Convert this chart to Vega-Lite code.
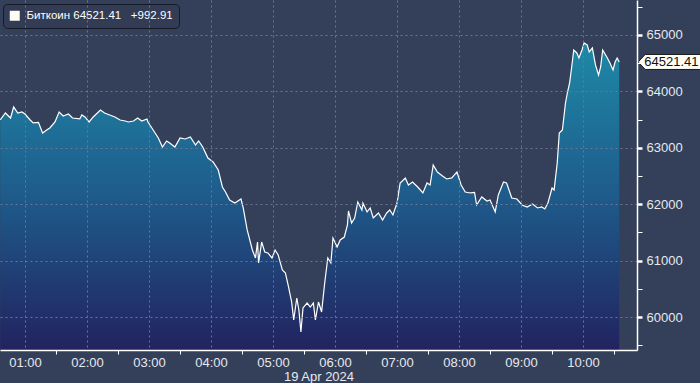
{
  "$schema": "https://vega.github.io/schema/vega-lite/v6.json",
  "width": 637,
  "height": 350,
  "autosize": {"type": "none"},
  "padding": {"left": 0, "top": 0, "right": 63, "bottom": 33},
  "background": "#344059",
  "config": {"view": {"stroke": null}, "font": "Liberation Sans"},
  "data": {"values": [
    {"t": "2024-04-19T00:36", "v": 63493},
    {"t": "2024-04-19T00:41", "v": 63617},
    {"t": "2024-04-19T00:46", "v": 63528},
    {"t": "2024-04-19T00:49", "v": 63723},
    {"t": "2024-04-19T00:53", "v": 63617},
    {"t": "2024-04-19T00:57", "v": 63635},
    {"t": "2024-04-19T01:00", "v": 63599},
    {"t": "2024-04-19T01:05", "v": 63493},
    {"t": "2024-04-19T01:08", "v": 63440},
    {"t": "2024-04-19T01:13", "v": 63450},
    {"t": "2024-04-19T01:17", "v": 63262},
    {"t": "2024-04-19T01:21", "v": 63316},
    {"t": "2024-04-19T01:24", "v": 63351},
    {"t": "2024-04-19T01:29", "v": 63457},
    {"t": "2024-04-19T01:33", "v": 63635},
    {"t": "2024-04-19T01:37", "v": 63564},
    {"t": "2024-04-19T01:42", "v": 63599},
    {"t": "2024-04-19T01:46", "v": 63528},
    {"t": "2024-04-19T01:53", "v": 63511},
    {"t": "2024-04-19T01:55", "v": 63582},
    {"t": "2024-04-19T01:58", "v": 63546},
    {"t": "2024-04-19T02:02", "v": 63457},
    {"t": "2024-04-19T02:06", "v": 63546},
    {"t": "2024-04-19T02:13", "v": 63670},
    {"t": "2024-04-19T02:17", "v": 63617},
    {"t": "2024-04-19T02:22", "v": 63582},
    {"t": "2024-04-19T02:27", "v": 63546},
    {"t": "2024-04-19T02:32", "v": 63493},
    {"t": "2024-04-19T02:37", "v": 63475},
    {"t": "2024-04-19T02:40", "v": 63457},
    {"t": "2024-04-19T02:45", "v": 63475},
    {"t": "2024-04-19T02:49", "v": 63528},
    {"t": "2024-04-19T02:53", "v": 63475},
    {"t": "2024-04-19T02:58", "v": 63511},
    {"t": "2024-04-19T02:59", "v": 63457},
    {"t": "2024-04-19T03:04", "v": 63316},
    {"t": "2024-04-19T03:09", "v": 63174},
    {"t": "2024-04-19T03:13", "v": 63014},
    {"t": "2024-04-19T03:17", "v": 63121},
    {"t": "2024-04-19T03:20", "v": 63085},
    {"t": "2024-04-19T03:25", "v": 63014},
    {"t": "2024-04-19T03:30", "v": 63174},
    {"t": "2024-04-19T03:35", "v": 63156},
    {"t": "2024-04-19T03:40", "v": 63191},
    {"t": "2024-04-19T03:45", "v": 63050},
    {"t": "2024-04-19T03:48", "v": 63121},
    {"t": "2024-04-19T03:52", "v": 63014},
    {"t": "2024-04-19T03:57", "v": 62819},
    {"t": "2024-04-19T04:02", "v": 62748},
    {"t": "2024-04-19T04:07", "v": 62606},
    {"t": "2024-04-19T04:11", "v": 62305},
    {"t": "2024-04-19T04:14", "v": 62216},
    {"t": "2024-04-19T04:18", "v": 62075},
    {"t": "2024-04-19T04:23", "v": 62021},
    {"t": "2024-04-19T04:29", "v": 62092},
    {"t": "2024-04-19T04:31", "v": 61950},
    {"t": "2024-04-19T04:35", "v": 61543},
    {"t": "2024-04-19T04:40", "v": 61188},
    {"t": "2024-04-19T04:43", "v": 61046},
    {"t": "2024-04-19T04:45", "v": 61330},
    {"t": "2024-04-19T04:46", "v": 60958},
    {"t": "2024-04-19T04:49", "v": 61330},
    {"t": "2024-04-19T04:52", "v": 61153},
    {"t": "2024-04-19T04:55", "v": 61135},
    {"t": "2024-04-19T04:59", "v": 61046},
    {"t": "2024-04-19T05:02", "v": 61188},
    {"t": "2024-04-19T05:05", "v": 61099},
    {"t": "2024-04-19T05:09", "v": 60833},
    {"t": "2024-04-19T05:12", "v": 60780},
    {"t": "2024-04-19T05:15", "v": 60532},
    {"t": "2024-04-19T05:18", "v": 60266},
    {"t": "2024-04-19T05:20", "v": 59947},
    {"t": "2024-04-19T05:23", "v": 60337},
    {"t": "2024-04-19T05:25", "v": 60124},
    {"t": "2024-04-19T05:27", "v": 59734},
    {"t": "2024-04-19T05:29", "v": 60160},
    {"t": "2024-04-19T05:33", "v": 60248},
    {"t": "2024-04-19T05:36", "v": 60177},
    {"t": "2024-04-19T05:39", "v": 60248},
    {"t": "2024-04-19T05:41", "v": 59947},
    {"t": "2024-04-19T05:44", "v": 60266},
    {"t": "2024-04-19T05:47", "v": 60089},
    {"t": "2024-04-19T05:50", "v": 60603},
    {"t": "2024-04-19T05:53", "v": 61046},
    {"t": "2024-04-19T05:56", "v": 60958},
    {"t": "2024-04-19T05:58", "v": 61401},
    {"t": "2024-04-19T06:02", "v": 61241},
    {"t": "2024-04-19T06:05", "v": 61365},
    {"t": "2024-04-19T06:09", "v": 61418},
    {"t": "2024-04-19T06:12", "v": 61631},
    {"t": "2024-04-19T06:13", "v": 61880},
    {"t": "2024-04-19T06:16", "v": 61667},
    {"t": "2024-04-19T06:19", "v": 61755},
    {"t": "2024-04-19T06:22", "v": 62039},
    {"t": "2024-04-19T06:26", "v": 61897},
    {"t": "2024-04-19T06:27", "v": 62021},
    {"t": "2024-04-19T06:31", "v": 61862},
    {"t": "2024-04-19T06:34", "v": 61933},
    {"t": "2024-04-19T06:37", "v": 61755},
    {"t": "2024-04-19T06:42", "v": 61844},
    {"t": "2024-04-19T06:46", "v": 61720},
    {"t": "2024-04-19T06:50", "v": 61844},
    {"t": "2024-04-19T06:53", "v": 61897},
    {"t": "2024-04-19T06:56", "v": 61809},
    {"t": "2024-04-19T07:00", "v": 62021},
    {"t": "2024-04-19T07:03", "v": 62376},
    {"t": "2024-04-19T07:08", "v": 62465},
    {"t": "2024-04-19T07:11", "v": 62340},
    {"t": "2024-04-19T07:15", "v": 62394},
    {"t": "2024-04-19T07:20", "v": 62305},
    {"t": "2024-04-19T07:25", "v": 62199},
    {"t": "2024-04-19T07:29", "v": 62376},
    {"t": "2024-04-19T07:32", "v": 62340},
    {"t": "2024-04-19T07:35", "v": 62695},
    {"t": "2024-04-19T07:39", "v": 62571},
    {"t": "2024-04-19T07:44", "v": 62500},
    {"t": "2024-04-19T07:48", "v": 62447},
    {"t": "2024-04-19T07:53", "v": 62465},
    {"t": "2024-04-19T07:58", "v": 62571},
    {"t": "2024-04-19T08:02", "v": 62340},
    {"t": "2024-04-19T08:06", "v": 62216},
    {"t": "2024-04-19T08:11", "v": 62199},
    {"t": "2024-04-19T08:15", "v": 62210},
    {"t": "2024-04-19T08:17", "v": 61986},
    {"t": "2024-04-19T08:22", "v": 62128},
    {"t": "2024-04-19T08:27", "v": 62057},
    {"t": "2024-04-19T08:30", "v": 62075},
    {"t": "2024-04-19T08:35", "v": 61862},
    {"t": "2024-04-19T08:38", "v": 62163},
    {"t": "2024-04-19T08:43", "v": 62394},
    {"t": "2024-04-19T08:46", "v": 62376},
    {"t": "2024-04-19T08:51", "v": 62110},
    {"t": "2024-04-19T08:56", "v": 62092},
    {"t": "2024-04-19T09:01", "v": 61986},
    {"t": "2024-04-19T09:06", "v": 61950},
    {"t": "2024-04-19T09:11", "v": 62004},
    {"t": "2024-04-19T09:16", "v": 61933},
    {"t": "2024-04-19T09:20", "v": 61950},
    {"t": "2024-04-19T09:23", "v": 61915},
    {"t": "2024-04-19T09:26", "v": 62021},
    {"t": "2024-04-19T09:30", "v": 62287},
    {"t": "2024-04-19T09:32", "v": 62252},
    {"t": "2024-04-19T09:35", "v": 62731},
    {"t": "2024-04-19T09:37", "v": 63262},
    {"t": "2024-04-19T09:40", "v": 63316},
    {"t": "2024-04-19T09:43", "v": 63794},
    {"t": "2024-04-19T09:45", "v": 63989},
    {"t": "2024-04-19T09:47", "v": 64149},
    {"t": "2024-04-19T09:49", "v": 64433},
    {"t": "2024-04-19T09:51", "v": 64734},
    {"t": "2024-04-19T09:54", "v": 64681},
    {"t": "2024-04-19T09:56", "v": 64592},
    {"t": "2024-04-19T09:59", "v": 64734},
    {"t": "2024-04-19T10:01", "v": 64858},
    {"t": "2024-04-19T10:04", "v": 64823},
    {"t": "2024-04-19T10:06", "v": 64699},
    {"t": "2024-04-19T10:09", "v": 64770},
    {"t": "2024-04-19T10:12", "v": 64468},
    {"t": "2024-04-19T10:15", "v": 64291},
    {"t": "2024-04-19T10:17", "v": 64433},
    {"t": "2024-04-19T10:19", "v": 64734},
    {"t": "2024-04-19T10:23", "v": 64610},
    {"t": "2024-04-19T10:26", "v": 64504},
    {"t": "2024-04-19T10:29", "v": 64379},
    {"t": "2024-04-19T10:31", "v": 64521},
    {"t": "2024-04-19T10:33", "v": 64592},
    {"t": "2024-04-19T10:35", "v": 64521.41}
  ]},
  "encoding": {
    "x": {
      "field": "t",
      "type": "temporal",
      "scale": {"domain": [
        {"year": 2024, "month": 4, "date": 19, "hours": 0, "minutes": 35, "seconds": 48},
        {"year": 2024, "month": 4, "date": 19, "hours": 10, "minutes": 52, "seconds": 12}
      ]},
      "axis": {
        "values": [
          {"year": 2024, "month": 4, "date": 19, "hours": 1, "minutes": 0},
          {"year": 2024, "month": 4, "date": 19, "hours": 1, "minutes": 30},
          {"year": 2024, "month": 4, "date": 19, "hours": 2, "minutes": 0},
          {"year": 2024, "month": 4, "date": 19, "hours": 2, "minutes": 30},
          {"year": 2024, "month": 4, "date": 19, "hours": 3, "minutes": 0},
          {"year": 2024, "month": 4, "date": 19, "hours": 3, "minutes": 30},
          {"year": 2024, "month": 4, "date": 19, "hours": 4, "minutes": 0},
          {"year": 2024, "month": 4, "date": 19, "hours": 4, "minutes": 30},
          {"year": 2024, "month": 4, "date": 19, "hours": 5, "minutes": 0},
          {"year": 2024, "month": 4, "date": 19, "hours": 5, "minutes": 30},
          {"year": 2024, "month": 4, "date": 19, "hours": 6, "minutes": 0},
          {"year": 2024, "month": 4, "date": 19, "hours": 6, "minutes": 30},
          {"year": 2024, "month": 4, "date": 19, "hours": 7, "minutes": 0},
          {"year": 2024, "month": 4, "date": 19, "hours": 7, "minutes": 30},
          {"year": 2024, "month": 4, "date": 19, "hours": 8, "minutes": 0},
          {"year": 2024, "month": 4, "date": 19, "hours": 8, "minutes": 30},
          {"year": 2024, "month": 4, "date": 19, "hours": 9, "minutes": 0},
          {"year": 2024, "month": 4, "date": 19, "hours": 9, "minutes": 30},
          {"year": 2024, "month": 4, "date": 19, "hours": 10, "minutes": 0},
          {"year": 2024, "month": 4, "date": 19, "hours": 10, "minutes": 30}
        ],
        "title": "19 Apr 2024",
        "titleFont": "Liberation Sans",
        "titleFontSize": 13,
        "titleFontWeight": "normal",
        "titleColor": "#e6e9ef",
        "titlePadding": 1,
        "labelExpr": "minutes(datum.value) == 0 ? timeFormat(datum.value, '%H:%M') : ''",
        "labelFont": "Liberation Sans",
        "labelFontSize": 13,
        "labelColor": "#e6e9ef",
        "labelPadding": 2,
        "labelOverlap": false,
        "labelFlush": false,
        "tickSize": 4,
        "tickColor": "#ffffff",
        "tickOpacity": {"condition": {"test": "minutes(datum.value) == 30", "value": 1}, "value": 0},
        "domainColor": "#ffffff",
        "domainWidth": 1.5,
        "grid": true,
        "gridColor": "#6b7691",
        "gridDash": [2, 3],
        "gridOpacity": {"condition": {"test": "minutes(datum.value) == 0", "value": 1}, "value": 0},
        "zindex": 1
      }
    },
    "y": {
      "field": "v",
      "type": "quantitative",
      "scale": {"domain": [59415, 65620], "zero": false, "nice": false},
      "axis": {
        "orient": "right",
        "title": null,
        "values": [59500, 60000, 60500, 61000, 61500, 62000, 62500, 63000, 63500, 64000, 64500, 65000, 65500],
        "labelExpr": "datum.value % 1000 == 0 ? format(datum.value, 'd') : ''",
        "labelFont": "Liberation Sans",
        "labelFontSize": 13,
        "labelColor": "#e6e9ef",
        "labelPadding": 4,
        "labelOverlap": false,
        "labelFlush": false,
        "tickSize": 5,
        "tickColor": "#ffffff",
        "tickWidth": {"condition": {"test": "datum.value % 1000 == 0", "value": 2.5}, "value": 1},
        "domainColor": "#ffffff",
        "domainWidth": 1.5,
        "grid": true,
        "gridColor": "#6b7691",
        "gridDash": [2, 3],
        "gridOpacity": {"condition": {"test": "datum.value % 1000 == 0", "value": 1}, "value": 0},
        "zindex": 1
      }
    }
  },
  "layer": [
    {
      "mark": {
        "type": "area",
        "opacity": 1,
        "fill": {
          "gradient": "linear",
          "x1": 0, "y1": 0, "x2": 0, "y2": 1,
          "stops": [
            {"offset": 0, "color": "#1e89a7"},
            {"offset": 0.5, "color": "#1e5b8b"},
            {"offset": 1, "color": "#22235f"}
          ]
        }
      },
      "encoding": {"y2": {"datum": 59415}}
    },
    {
      "mark": {"type": "line", "stroke": "#ffffff", "strokeWidth": 1.2}
    },
    {
      "transform": [{"filter": "datum.v == 64521.41"}],
      "mark": {
        "type": "point",
        "shape": "M0,0L0.93,-1L9,-1L9,1L0.93,1Z",
        "size": 225,
        "filled": true,
        "opacity": 1,
        "stroke": "#1a1a1a",
        "strokeWidth": 1,
        "xOffset": 19
      },
      "encoding": {
        "color": {
          "datum": "Биткоин\u00a064521.41\u00a0\u00a0\u00a0+992.91",
          "scale": {"range": ["#fffbf5"]},
          "legend": {
            "title": null,
            "orient": "none",
            "legendX": 3,
            "legendY": 4,
            "symbolType": "square",
            "symbolSize": 100,
            "symbolStrokeWidth": 0,
            "labelFont": "Liberation Sans",
            "labelFontSize": 11.5,
            "labelColor": "#ffffff",
            "labelLimit": 300,
            "labelOffset": 6,
            "padding": 6,
            "fillColor": "#323c54",
            "strokeColor": "#151a26",
            "cornerRadius": 4
          }
        }
      }
    },
    {
      "transform": [{"filter": "datum.v == 64521.41"}],
      "mark": {
        "type": "text",
        "align": "left",
        "baseline": "middle",
        "dx": 25,
        "font": "Liberation Sans",
        "fontSize": 13,
        "color": "#111111"
      },
      "encoding": {"text": {"field": "v", "type": "quantitative", "format": ".2f"}}
    }
  ]
}
